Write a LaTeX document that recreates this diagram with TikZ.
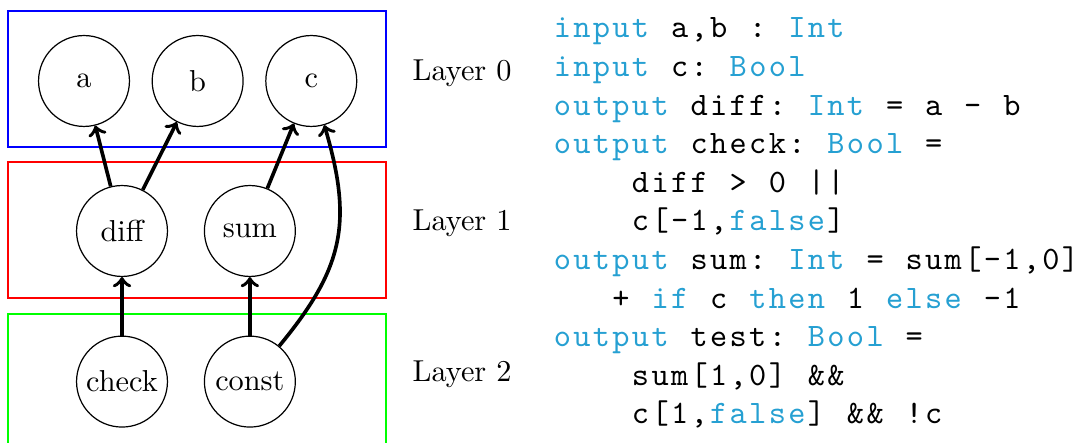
\documentclass[tikz,border=0pt]{standalone}
\usetikzlibrary{positioning}
\definecolor{kwblue}{RGB}{38,160,210}
\newlength{\colw}
\setlength{\colw}{6.45pt}
% one fixed column per character, keywords in blue
\ExplSyntaxOn
\str_const:Nn \c__code_kw_str { ,input,output,Int,Bool,false,if,then,else, }
\tl_new:N \l__code_word_tl
\tl_new:N \l__code_tmp_tl
\cs_new_protected:Npn \__code_cell:n #1 { \makebox[\colw]{#1} }
\cs_new_protected:Npn \__code_flush:
  {
    \tl_if_empty:NF \l__code_word_tl
      {
        \tl_set:Nx \l__code_tmp_tl { , \l__code_word_tl , }
        \exp_args:NNo \str_if_in:NnTF \c__code_kw_str { \l__code_tmp_tl }
          {
            \group_begin:
            \color{kwblue}
            \tl_map_function:NN \l__code_word_tl \__code_cell:n
            \group_end:
          }
          { \tl_map_function:NN \l__code_word_tl \__code_cell:n }
        \tl_clear:N \l__code_word_tl
      }
  }
\NewDocumentCommand \codeline { O{0} m }
  {
    \hspace*{#1\colw}
    \tl_clear:N \l__code_word_tl
    \str_map_inline:nn {#2}
      {
        \str_if_in:nnTF { abcdefghijklmnopqrstuvwxyzABCDEFGHIJKLMNOPQRSTUVWXYZ } {##1}
          { \tl_put_right:Nn \l__code_word_tl {##1} }
          { \__code_flush: \__code_cell:n {##1} }
      }
    \__code_flush:
  }
\ExplSyntaxOff

\begin{document}
\begin{tikzpicture}[x=0.33pt, y=-0.33pt,
    main/.style = {draw, circle, minimum size=30pt, inner sep=0pt},
    link/.style = {->, very thick},
    layer/.style = {anchor=base west, inner sep=0pt},
    code/.style = {anchor=base west, inner sep=0pt, font=\ttfamily\fontsize{10.8pt}{13pt}\selectfont},
    node distance=37.5pt]
  \clip (0,0) rectangle (1077,443);
  % layer boxes
  \draw[blue] (8,11) rectangle (386,147);
  \draw[red] (8,162) rectangle (386,298);
  \draw[green] (8,314) rectangle (386,450);
  % layer 0
  \node[main] (a) at (84,81) {a};
  \node[main] (b) [right of=a] {b};
  \node[main] (c) [right of=b] {c};
  % layer 1
  \node[main] (diff) at (122,231) {diff};
  \node[main] (sum) [right of=diff, node distance=42.2pt] {sum};
  % layer 2
  \node[main] (check) [below of=diff, node distance=49.7pt] {check};
  \node[main] (const) [below of=sum, node distance=49.7pt] {const};
  \draw[link] (diff) -- (a);
  \draw[link] (diff) -- (b);
  \draw[link] (sum) -- (c);
  \draw[link] (check) -- (diff);
  \draw[link] (const) -- (sum);
  \draw[link] (const) to[bend right=28, looseness=1.15] (c);
  \node[layer] (l0) at (412,0 |- a) {Layer 0};
  \node[layer] (l1) at (412,0 |- diff) {Layer 1};
  \node[layer] (l2) at (412,0 |- check) {Layer 2};
  % the spec
  \node[code] (line0) at (552,38) {\codeline{input a,b : Int}};
  \node[code] (line1) at (552,76.6) {\codeline{input c: Bool}};
  \node[code] (line2) at (552,115.2) {\codeline{output diff: Int = a - b}};
  \node[code] (line3) at (552,153.8) {\codeline{output check: Bool =}};
  \node[code] (line4) at (552,192.4) {\codeline[4]{diff > 0 ||}};
  \node[code] (line5) at (552,231) {\codeline[4]{c[-1,false]}};
  \node[code] (line6) at (552,269.6) {\codeline{output sum: Int = sum[-1,0]}};
  \node[code] (line7) at (552,308.2) {\codeline[3]{+ if c then 1 else -1}};
  \node[code] (line8) at (552,346.8) {\codeline{output test: Bool =}};
  \node[code] (line9) at (552,385.4) {\codeline[4]{sum[1,0] &&}};
  \node[code] (line10) at (552,424) {\codeline[4]{c[1,false] && !c}};
\end{tikzpicture}
\end{document}
